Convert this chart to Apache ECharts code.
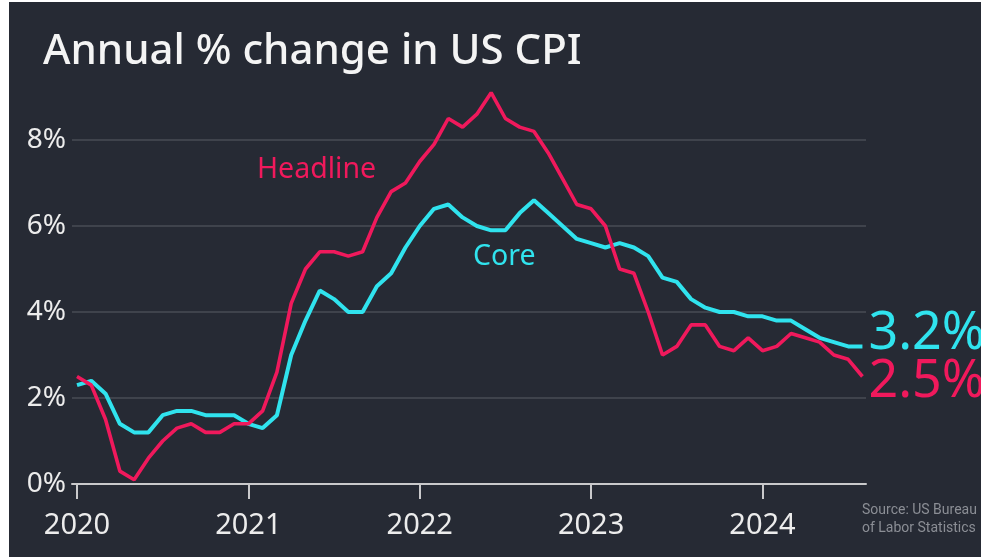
<!DOCTYPE html>
<html>
<head>
<meta charset="utf-8">
<script src="https://cdn.jsdelivr.net/npm/echarts@6/dist/echarts.min.js"></script>
<style>
  html, body { margin: 0; padding: 0; background: #ffffff; width: 981px; height: 557px; overflow: hidden; }
  #chart { position: absolute; left: 9px; top: 2px; width: 972px; height: 555px; }
</style>
</head>
<body>
<div id="chart"></div>
<script>
// Monthly, Jan 2020 .. Aug 2024
const months = [
  '2020-01','2020-02','2020-03','2020-04','2020-05','2020-06','2020-07','2020-08','2020-09','2020-10','2020-11','2020-12',
  '2021-01','2021-02','2021-03','2021-04','2021-05','2021-06','2021-07','2021-08','2021-09','2021-10','2021-11','2021-12',
  '2022-01','2022-02','2022-03','2022-04','2022-05','2022-06','2022-07','2022-08','2022-09','2022-10','2022-11','2022-12',
  '2023-01','2023-02','2023-03','2023-04','2023-05','2023-06','2023-07','2023-08','2023-09','2023-10','2023-11','2023-12',
  '2024-01','2024-02','2024-03','2024-04','2024-05','2024-06','2024-07','2024-08'
];
const headline = [
  2.5, 2.3, 1.5, 0.3, 0.1, 0.6, 1.0, 1.3, 1.4, 1.2, 1.2, 1.4,
  1.4, 1.7, 2.6, 4.2, 5.0, 5.4, 5.4, 5.3, 5.4, 6.2, 6.8, 7.0,
  7.5, 7.9, 8.5, 8.3, 8.6, 9.1, 8.5, 8.3, 8.2, 7.7, 7.1, 6.5,
  6.4, 6.0, 5.0, 4.9, 4.0, 3.0, 3.2, 3.7, 3.7, 3.2, 3.1, 3.4,
  3.1, 3.2, 3.5, 3.4, 3.3, 3.0, 2.9, 2.5
];
const core = [
  2.3, 2.4, 2.1, 1.4, 1.2, 1.2, 1.6, 1.7, 1.7, 1.6, 1.6, 1.6,
  1.4, 1.3, 1.6, 3.0, 3.8, 4.5, 4.3, 4.0, 4.0, 4.6, 4.9, 5.5,
  6.0, 6.4, 6.5, 6.2, 6.0, 5.9, 5.9, 6.3, 6.6, 6.3, 6.0, 5.7,
  5.6, 5.5, 5.6, 5.5, 5.3, 4.8, 4.7, 4.3, 4.1, 4.0, 4.0, 3.9,
  3.9, 3.8, 3.8, 3.6, 3.4, 3.3, 3.2, 3.2
];
const yearLabels = ['2020', '2021', '2022', '2023', '2024'];
const yTicks = [0, 2, 4, 6, 8];

const PINK = '#f0195c';
const CYAN = '#30e3ee';
const BG = '#262a34';

const yearTickIdx = yearLabels.map(y => months.indexOf(y + '-01'));
const toPairs = arr => arr.map((v, i) => [i, v]);

const chart = echarts.init(document.getElementById('chart'), null, { renderer: 'canvas' });
chart.setOption({
  backgroundColor: BG,
  animation: false,
  textStyle: { fontFamily: 'Noto Sans' },
  grid: { left: 63, right: 115, top: 138, bottom: 73, containLabel: false },
  title: {
    text: 'Annual % change in US CPI',
    left: 29, top: 24,
    textStyle: { color: '#f4f4f4', fontSize: 42, fontWeight: 500, fontFamily: 'Noto Sans' }
  },
  xAxis: {
    type: 'value',
    min: -0.35, max: 55.25,
    axisLine: { show: true, lineStyle: { color: '#c9c9cb', width: 2 } },
    axisTick: { show: true, customValues: yearTickIdx, length: 15, lineStyle: { color: '#c9c9cb', width: 2 } },
    axisLabel: {
      show: true, customValues: yearTickIdx, margin: 27,
      color: '#ececec', fontSize: 29, fontFamily: 'Noto Sans',
      formatter: v => yearLabels[yearTickIdx.indexOf(Math.round(v))] || ''
    },
    splitLine: { show: false }
  },
  yAxis: {
    type: 'value',
    min: yTicks[0], max: yTicks[yTicks.length - 1], interval: 2,
    axisLine: { show: false },
    axisTick: { show: false },
    axisLabel: { color: '#ececec', fontSize: 28, margin: 6, fontFamily: 'Noto Sans', formatter: '{value}%' },
    splitLine: { show: true, lineStyle: { color: '#494c55', width: 1.5 } }
  },
  series: [
    {
      name: 'Core', type: 'line', data: toPairs(core), showSymbol: false, clip: false,
      lineStyle: { color: CYAN, width: 4 }, itemStyle: { color: CYAN }, z: 3,
      endLabel: {
        show: true, color: CYAN, fontSize: 52, fontFamily: 'Noto Sans', distance: 6, offset: [0, -12],
        formatter: p => p.value[1].toFixed(1) + '%'
      }
    },
    {
      name: 'Headline', type: 'line', data: toPairs(headline), showSymbol: false, clip: false,
      lineStyle: { color: PINK, width: 3.6 }, itemStyle: { color: PINK }, z: 4,
      endLabel: {
        show: true, color: PINK, fontSize: 52, fontFamily: 'Noto Sans', distance: 6, offset: [0, 6],
        formatter: p => p.value[1].toFixed(1) + '%'
      }
    }
  ],
  graphic: [
    { type: 'text', left: 248, top: 153, style: { text: 'Headline', fill: PINK, fontSize: 28.5, fontFamily: 'Noto Sans' } },
    { type: 'text', left: 464, top: 240, style: { text: 'Core', fill: CYAN, fontSize: 28.5, fontFamily: 'Noto Sans' } },
    { type: 'text', left: 853, top: 499, style: { text: 'Source: US Bureau\nof Labor Statistics', fill: '#8b8e95', fontSize: 14, lineHeight: 18, fontFamily: 'Liberation Sans Narrow, Roboto, sans-serif' } }
  ]
});
</script>
</body>
</html>
